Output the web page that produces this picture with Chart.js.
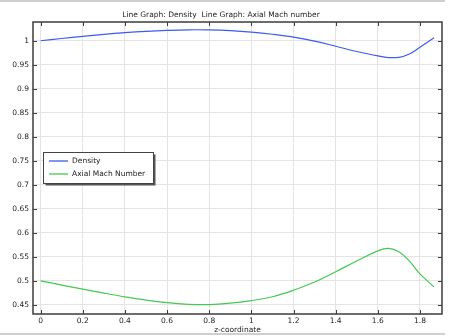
<!DOCTYPE html>
<html>
<head>
<meta charset="utf-8">
<script src="https://cdn.jsdelivr.net/npm/chart.js@4/dist/chart.umd.min.js"></script>
<style>
  html, body { margin: 0; padding: 0; background: #fff; }
  #wrap { width: 449px; height: 336px; }
</style>
</head>
<body>
<div id="wrap"><canvas id="chart"></canvas></div>
<script>
// z positions and values for each curve
const densityZ = [0, 0.1, 0.2, 0.3, 0.4, 0.5, 0.6, 0.7, 0.8, 0.9, 1.0, 1.1, 1.2, 1.3, 1.4, 1.5, 1.6, 1.65, 1.7, 1.75, 1.8, 1.867];
const densityVal = [1.0, 1.0047, 1.0092, 1.0133, 1.0168, 1.0196, 1.0216, 1.0228, 1.0226, 1.021, 1.018, 1.0135, 1.0075, 0.999, 0.9885, 0.9775, 0.9685, 0.965, 0.9655, 0.9725, 0.9865, 1.006];
const machZ = [0, 0.1, 0.2, 0.3, 0.4, 0.5, 0.6, 0.7, 0.8, 0.9, 1.0, 1.1, 1.2, 1.3, 1.4, 1.5, 1.6, 1.65, 1.7, 1.75, 1.8, 1.866];
const machVal = [0.5, 0.4913, 0.4828, 0.4745, 0.4667, 0.4598, 0.4545, 0.4512, 0.4505, 0.4535, 0.459, 0.467, 0.4805, 0.4975, 0.519, 0.5415, 0.5625, 0.5675, 0.5605, 0.541, 0.5145, 0.4875];
const seriesNames = ['Density', 'Axial Mach Number'];
const titleText = 'Line Graph: Density  Line Graph: Axial Mach number';
const xTitle = 'z-coordinate';

const FONT = { family: 'DejaVu Sans', size: 7.5 };

function toPoints(xs, ys) {
  return xs.map((x, i) => ({ x: x, y: ys[i] }));
}

// frame, inward tick marks, border lines and the boxed legend
const decorations = {
  id: 'decorations',
  beforeDraw(chart) {
    const ctx = chart.ctx;
    ctx.save();
    ctx.fillStyle = '#fff';
    ctx.fillRect(0, 0, chart.width, chart.height);
    ctx.fillStyle = '#cfcfcf';
    ctx.fillRect(0, 0, 445, 2);
    ctx.fillRect(0, 333, 445, 2);
    ctx.restore();
  },
  afterDraw(chart) {
    const ctx = chart.ctx;
    const a = chart.chartArea;
    const xs = chart.scales.x, ys = chart.scales.y;
    ctx.save();
    ctx.strokeStyle = '#3c3c3c';
    ctx.lineWidth = 1;
    ctx.beginPath();
    xs.ticks.forEach(t => {
      const px = Math.round(xs.getPixelForValue(t.value)) + 0.5;
      ctx.moveTo(px, a.bottom); ctx.lineTo(px, a.bottom - 4);
      ctx.moveTo(px, a.top); ctx.lineTo(px, a.top + 4);
    });
    ys.ticks.forEach(t => {
      const py = Math.round(ys.getPixelForValue(t.value)) + 0.5;
      ctx.moveTo(a.left, py); ctx.lineTo(a.left + 4, py);
      ctx.moveTo(a.right, py); ctx.lineTo(a.right - 4, py);
    });
    ctx.stroke();
    ctx.lineWidth = 1.5;
    ctx.strokeRect(a.left, a.top, a.right - a.left, a.bottom - a.top);

    // legend box
    const bx = 43.5, by = 152.5, bw = 110, bh = 31;
    ctx.fillStyle = '#555';
    ctx.fillRect(bx + 2, by + 2, bw, bh);
    ctx.fillStyle = '#fff';
    ctx.fillRect(bx, by, bw, bh);
    ctx.strokeStyle = '#444';
    ctx.lineWidth = 1;
    ctx.strokeRect(bx, by, bw, bh);
    ctx.font = FONT.size + 'px ' + FONT.family;
    ctx.textBaseline = 'middle';
    chart.data.datasets.forEach((ds, i) => {
      const ly = 161 + i * 13;
      ctx.strokeStyle = ds.borderColor;
      ctx.lineWidth = 1.3;
      ctx.beginPath();
      ctx.moveTo(49, ly); ctx.lineTo(68, ly);
      ctx.stroke();
      ctx.fillStyle = '#222';
      ctx.fillText(ds.label, 72, ly);
    });
    ctx.restore();
  }
};

new Chart(document.getElementById('chart'), {
  type: 'line',
  data: {
    datasets: [{
      label: seriesNames[0],
      data: toPoints(densityZ, densityVal),
      borderColor: '#3b5cf5',
      borderWidth: 1.2,
      pointRadius: 0,
      tension: 0.4
    }, {
      label: seriesNames[1],
      data: toPoints(machZ, machVal),
      borderColor: '#45c852',
      borderWidth: 1.2,
      pointRadius: 0,
      tension: 0.4
    }]
  },
  options: {
    responsive: true,
    maintainAspectRatio: false,
    animation: false,
    layout: { padding: { left: 0, right: 7, top: 0, bottom: 0 } },
    plugins: {
      legend: { display: false },
      tooltip: { enabled: false },
      title: {
        display: true,
        text: titleText,
        color: '#222',
        font: { family: FONT.family, size: FONT.size, weight: 'normal' },
        padding: { top: 10.5, bottom: 2.5 }
      }
    },
    scales: {
      x: {
        type: 'linear',
        min: -0.036,
        max: 1.9045,
        afterFit: s => { s.height = 22; },
        grid: { color: '#e4e4e4', drawTicks: false },
        border: { display: false },
        ticks: {
          stepSize: 0.2,
          includeBounds: false,
          padding: 3,
          color: '#222',
          font: FONT,
          maxRotation: 0,
          callback: v => String(+v.toFixed(2))
        },
        title: {
          display: true,
          text: xTitle,
          color: '#222',
          font: FONT,
          padding: { top: 0, bottom: 1 }
        }
      },
      y: {
        min: 0.431,
        max: 1.039,
        afterFit: s => { s.width = 33; },
        grid: { color: '#e4e4e4', drawTicks: false },
        border: { display: false },
        ticks: {
          stepSize: 0.05,
          includeBounds: false,
          padding: 4,
          color: '#222',
          font: FONT,
          callback: v => String(+v.toFixed(2))
        }
      }
    }
  },
  plugins: [decorations]
});
</script>
</body>
</html>
